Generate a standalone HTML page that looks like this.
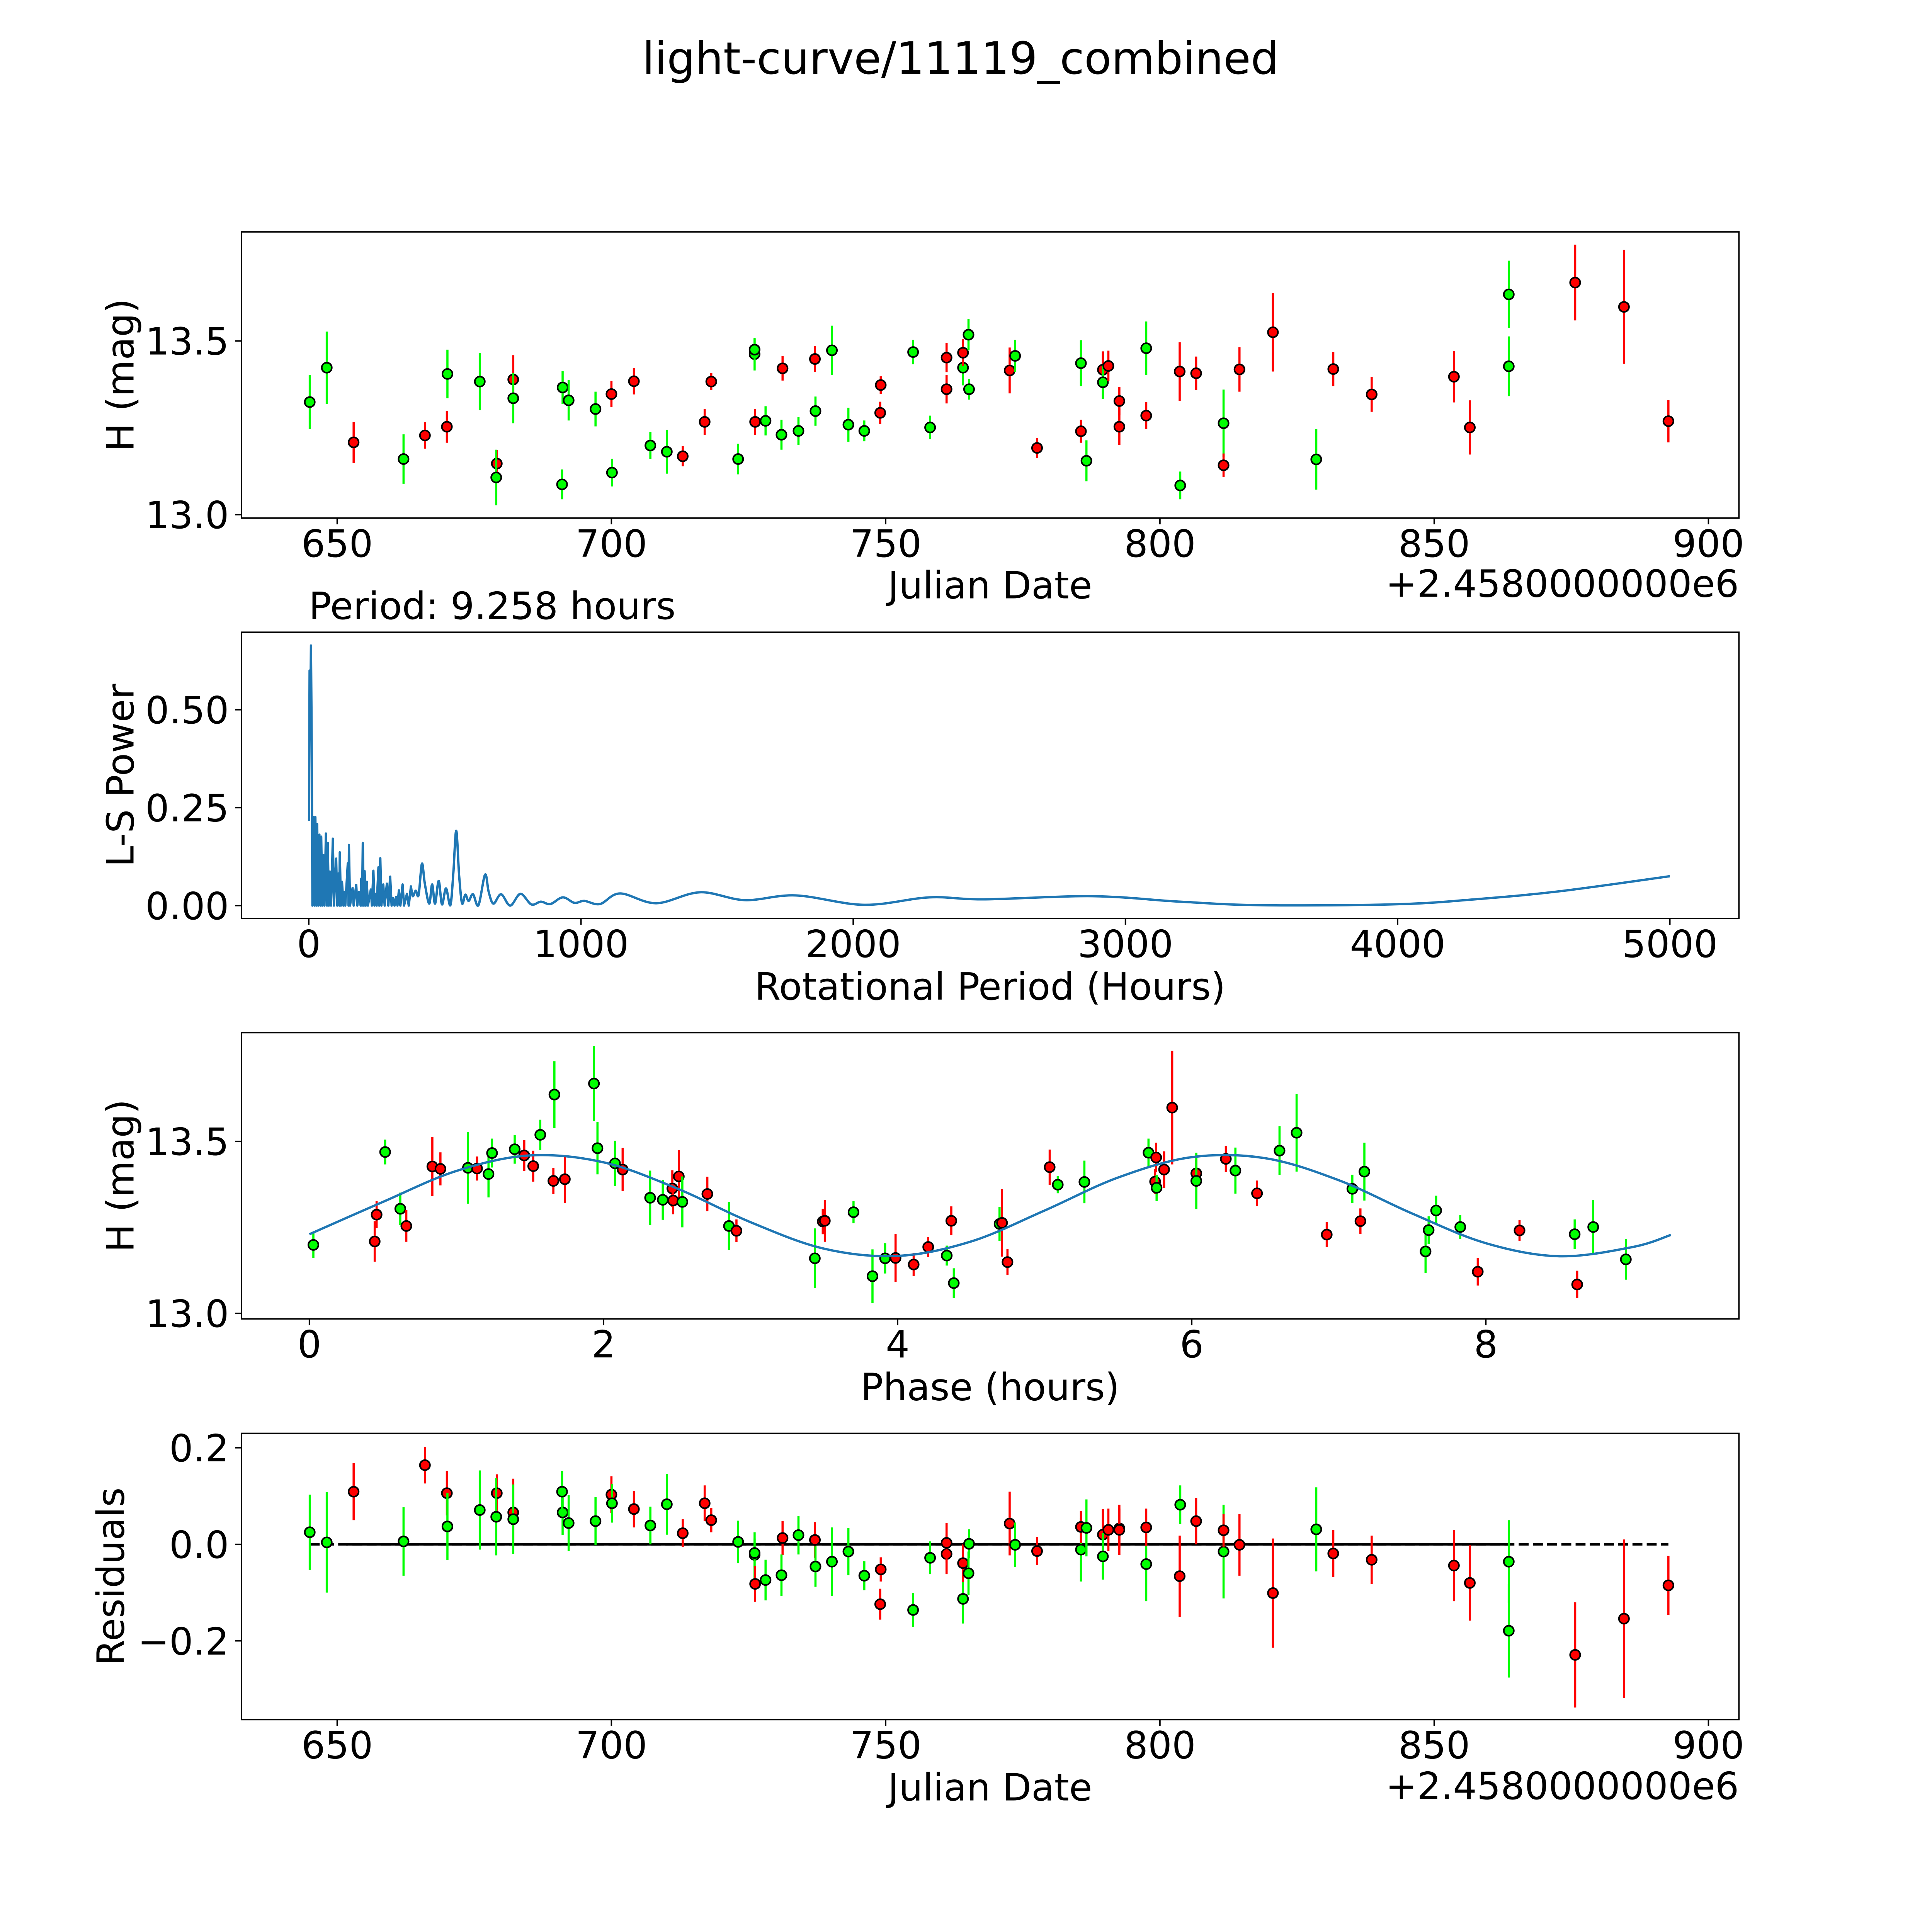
<!DOCTYPE html>
<html>
<head>
<meta charset="utf-8">
<style>
html,body{margin:0;padding:0;background:#fff;overflow:hidden;}
svg{display:block;}
text{font-family:"DejaVu Sans","Liberation Sans",sans-serif;fill:#000;}
</style>
</head>
<body>
<svg id="fig" xmlns="http://www.w3.org/2000/svg" width="5400" height="5400" viewBox="0 0 5400 5400">
<rect x="0" y="0" width="5400" height="5400" fill="#fff"/>
<text x="2486" y="191" font-size="115" text-anchor="middle">light-curve/11119_combined</text>
<g transform="scale(0.926)">
<g id="p1"></g>
<g id="p2"></g>
<g id="p3"></g>
<g id="p4"></g>
<text x="863" y="1730" font-size="105">Period: 9.258 hours</text>
</g>
</svg>
<script>
// ---- light curve data (Julian date offset, H mag, error, band) ----
const jd = [645.0,648.1,653.0,662.1,666.0,670.0,670.1,676.0,679.1,679.0,682.1,682.1,691.1,691.0,692.2,697.1,700.0,700.1,704.1,707.1,710.1,713.0,717.0,718.2,723.1,726.1,726.1,726.2,728.1,731.2,731.0,734.1,737.1,737.2,740.2,743.2,746.1,749.1,749.0,755.0,758.1,761.1,761.1,764.1,764.1,765.1,765.2,772.6,773.6,777.6,785.6,785.6,786.6,789.6,789.6,790.6,792.6,792.6,797.5,797.5,803.6,803.7,806.6,811.6,811.6,814.5,820.6,828.5,831.6,838.6,853.6,856.5,863.6,863.6,875.7,884.6,892.7];
const mag = [13.324,13.423,13.208,13.160,13.228,13.253,13.405,13.383,13.147,13.107,13.389,13.335,13.366,13.087,13.329,13.304,13.347,13.121,13.384,13.199,13.181,13.168,13.267,13.383,13.160,13.462,13.475,13.267,13.270,13.421,13.230,13.241,13.448,13.298,13.473,13.259,13.241,13.373,13.293,13.468,13.251,13.452,13.361,13.423,13.466,13.518,13.361,13.415,13.457,13.192,13.436,13.240,13.155,13.417,13.381,13.428,13.327,13.253,13.479,13.285,13.412,13.084,13.407,13.263,13.142,13.418,13.525,13.159,13.419,13.346,13.397,13.251,13.634,13.427,13.668,13.598,13.269];
const magErr = [0.078,0.104,0.059,0.071,0.038,0.046,0.070,0.082,0.039,0.080,0.070,0.072,0.047,0.043,0.058,0.050,0.038,0.040,0.038,0.039,0.063,0.029,0.037,0.025,0.044,0.047,0.030,0.037,0.042,0.035,0.043,0.040,0.037,0.042,0.071,0.049,0.030,0.025,0.032,0.035,0.034,0.042,0.041,0.051,0.039,0.045,0.030,0.066,0.046,0.029,0.066,0.033,0.059,0.053,0.048,0.044,0.041,0.052,0.077,0.039,0.084,0.040,0.048,0.097,0.034,0.064,0.113,0.087,0.049,0.050,0.074,0.078,0.097,0.086,0.109,0.164,0.061];
const band = "ggrgrrggrgrgggggrgrggrrrgggrgrggrggggrrggrrgrggrgrgrgrgrrrgrrgrgrrrgrrrrggrrrr".split("");
const residuals = [0.025,0.004,0.109,0.006,0.164,0.106,0.037,0.071,0.106,0.057,0.066,0.052,0.066,0.109,0.044,0.048,0.103,0.085,0.073,0.039,0.083,0.023,0.085,0.050,0.005,-0.022,-0.018,-0.082,-0.074,0.013,-0.064,0.019,0.009,-0.046,-0.036,-0.015,-0.065,-0.052,-0.124,-0.136,-0.028,-0.020,0.003,-0.113,-0.039,-0.060,0.001,0.043,-0.001,-0.014,-0.011,0.036,0.034,0.020,-0.025,0.030,0.033,0.030,-0.041,0.035,-0.066,0.082,0.048,-0.015,0.029,-0.001,-0.101,0.031,-0.019,-0.032,-0.044,-0.080,-0.179,-0.036,-0.229,-0.154,-0.085];
// ---- phased data ----
const phase = [0.027,0.444,0.457,0.515,0.618,0.659,0.836,0.891,1.078,1.140,1.218,1.242,1.396,1.461,1.522,1.570,1.659,1.666,1.737,1.935,1.959,2.078,2.130,2.317,2.403,2.468,2.474,2.512,2.536,2.706,2.853,2.904,3.437,3.491,3.505,3.700,3.829,3.915,3.986,4.109,4.208,4.334,4.365,4.382,4.693,4.710,4.747,5.034,5.089,5.270,5.706,5.758,5.751,5.761,5.812,5.867,6.031,6.031,6.232,6.297,6.444,6.597,6.713,6.918,7.092,7.147,7.174,7.590,7.611,7.662,7.826,7.945,8.229,8.604,8.621,8.730,8.952];
const phaseMag = [13.199,13.209,13.287,13.469,13.304,13.254,13.427,13.420,13.423,13.421,13.405,13.466,13.477,13.459,13.428,13.519,13.385,13.636,13.390,13.668,13.480,13.436,13.418,13.336,13.330,13.363,13.328,13.398,13.324,13.347,13.254,13.240,13.160,13.267,13.269,13.294,13.108,13.160,13.161,13.142,13.193,13.168,13.269,13.088,13.260,13.263,13.149,13.425,13.374,13.382,13.467,13.453,13.383,13.365,13.418,13.598,13.407,13.385,13.449,13.415,13.349,13.473,13.525,13.229,13.362,13.268,13.412,13.180,13.242,13.299,13.251,13.121,13.241,13.230,13.084,13.251,13.157];
const phaseErr = [0.038,0.059,0.039,0.036,0.047,0.046,0.086,0.048,0.104,0.035,0.068,0.042,0.042,0.045,0.045,0.044,0.038,0.097,0.069,0.109,0.076,0.066,0.063,0.079,0.058,0.053,0.040,0.076,0.074,0.050,0.070,0.033,0.087,0.037,0.061,0.032,0.078,0.044,0.070,0.033,0.029,0.029,0.042,0.043,0.049,0.098,0.038,0.051,0.025,0.062,0.041,0.043,0.036,0.038,0.053,0.165,0.040,0.082,0.038,0.067,0.037,0.071,0.113,0.037,0.041,0.037,0.084,0.063,0.040,0.043,0.035,0.040,0.030,0.043,0.040,0.078,0.059];
const phaseBand = "grrggrrrgrgggrrgrgrgggrggrrrgrgrgrrgggrrrgrggrrrgggrrgrrrgrgrggrgrgggggrrgrgg".split("");
// ---- model curve samples ----
const modelPhase = [0,0.5,1.0,1.5,2.0,2.5,3.0,3.5,4.0,4.5,5.0,5.5,6.0,6.5,7.0,7.5,8.0,8.5,9.0,9.258];
const modelMag = [13.230,13.324,13.414,13.459,13.439,13.363,13.265,13.188,13.167,13.209,13.299,13.395,13.454,13.451,13.387,13.290,13.204,13.166,13.193,13.228];
// ---- periodogram ----
const periodHours = [1,3,5.4,8,10.7,13.4,17.4,21.4,24.1,28.2,30.8,34.9,38.9,42.9,45.6,49.6,53.6,57.6,63.0,67.0,69.7,73.7,77.7,81.8,88.5,92.5,100.5,104.6,108.6,112.6,113.9,118.0,122.0,127.3,130.0,134.1,143.4,146.1,147.5,151.5,160.9,164.9,174.3,178.3,185.0,190.4,193.0,195.7,198.4,202.4,205.1,209.1,213.1,217.2,227.9,231.9,237.3,241.3,245.3,249.3,256.0,258.7,262.7,266.8,273.5,278.8,286.9,292.2,298.9,304.3,309.7,315.0,320.4,325.7,331.1,336.5,344.5,349.9,360.6,367.3,375.3,382.0,392.8,403.5,415.6,426.3,442.4,453.1,463.8,477.2,489.3,504.0,520.1,530.9,541.6,552.3,563.0,575.1,587.1,603.2,623.3,647.5,660.9,678.3,706.4,740.0,777.5,817.7,852.6,887.4,933.0,975.9,1012.1,1069.7,1143.5,1276.2,1437.0,1601.9,1789.6,2040,2280,2480,2880,3200,3500,4000,4300,4600,5000];
const lsPower = [0.216,0.600,0.464,0.664,0.417,0,0.226,0,0.226,0,0.208,0,0.181,0,0.176,0,0.129,0,0.184,0,0.160,0,0.087,0,0.171,0,0.120,0,0.082,0,0.136,0,0.061,0,0.035,0,0.108,0,0.155,0,0.045,0,0.053,0,0.035,0,0.069,0,0.160,0,0.088,0,0.061,0,0.041,0,0.089,0,0.030,0,0.098,0,0.121,0,0.054,0,0.056,0,0.074,0,0.019,0,0.022,0,0.039,0,0.054,0,0.030,0,0.049,0.024,0.038,0.027,0.107,0.056,0.005,0.054,0.005,0.063,0.003,0.044,0.001,0.082,0.191,0.077,0.006,0.028,0.012,0.029,0.001,0.079,0.035,0.005,0.029,0.0,0.030,0.003,0.010,0.004,0.021,0.007,0.012,0.004,0.031,0.006,0.034,0.014,0.026,0.002,0.021,0.016,0.024,0.010,0.001,0.0035,0.017,0.037,0.075];
// ---- ticks ----
const jdTicks = [650,700,750,800,850,900];
const magTicks = [13.0,13.5];
const magTickLabels = ["13.0","13.5"];
const periodTicks = [0,1000,2000,3000,4000,5000];
const powerTicks = [0,0.25,0.5];
const powerTickLabels = ["0.00","0.25","0.50"];
const phaseTicks = [0,2,4,6,8];
const resTicks = [-0.2,0,0.2];
const resTickLabels = ["\u22120.2","0.0","0.2"];

const NS = "http://www.w3.org/2000/svg";
const FS = 105;
function mk(parent, tag, attrs){
  const e = document.createElementNS(NS, tag);
  for (const k in attrs) e.setAttribute(k, attrs[k]);
  parent.appendChild(e);
  return e;
}
function axis(x0,x1,y0,y1,xmin,xmax,ymin,ymax){
  return {x0,x1,y0,y1,
    sx:v=>x0+(v-xmin)/(xmax-xmin)*(x1-x0),
    sy:v=>y1-(v-ymin)/(ymax-ymin)*(y1-y0)};
}
const A1 = axis(675,4860,648,1448,632.56,905.56,12.990,13.814);
const A2 = axis(675,4860,1767,2567,-247.1,5253.7,-0.0329,0.6978);
const A3 = axis(675,4860,2886,3686,-0.4616,9.721,12.984,13.816);
const A4 = axis(675,4860,4006,4806,632.56,905.56,-0.3631,0.2298);
const COL = {r:"#ff0000", g:"#00ff00"};

function frame(g, A){
  const r = mk(g,"rect",{x:A.x0,y:A.y0,width:A.x1-A.x0,height:A.y1-A.y0,fill:"none",stroke:"#000","stroke-width":4});
  
  
}
function xticks(g, A, vals, labels, name){
  vals.forEach((v,i)=>{
    const x = A.sx(v);
    const t = mk(g,"line",{x1:x,x2:x,y1:A.y1,y2:A.y1+17.5,stroke:"#000","stroke-width":4});
    
    
    const l = mk(g,"text",{x:x,y:A.y1+108,"font-size":FS,"text-anchor":"middle"});
    l.textContent = labels ? labels[i] : String(v);
    
    
  });
}
function yticks(g, A, vals, labels, name){
  vals.forEach((v,i)=>{
    const y = A.sy(v);
    const t = mk(g,"line",{x1:A.x0-17.5,x2:A.x0,y1:y,y2:y,stroke:"#000","stroke-width":4});
    
    
    const l = mk(g,"text",{x:A.x0-35,y:y+38,"font-size":FS,"text-anchor":"end"});
    l.textContent = labels[i];
    
    
  });
}
function label(g, x, y, txt, rot, name, anchor){
  const l = mk(g,"text",{x:x,y:y,"font-size":FS,"text-anchor":anchor||"middle"});
  if (rot) l.setAttribute("transform","rotate(-90 "+x+" "+y+")");
  l.textContent = txt;
  
  
}
function errPoints(g, A, xs, ys, es, bs, name){
  xs.forEach((xv,i)=>{
    const x = A.sx(xv);
    const b = mk(g,"line",{x1:x,x2:x,y1:A.sy(ys[i]-es[i]),y2:A.sy(ys[i]+es[i]),stroke:COL[bs[i]],"stroke-width":6});
    
    
    const c = mk(g,"circle",{cx:x,cy:A.sy(ys[i]),r:14,fill:COL[bs[i]],stroke:"#000","stroke-width":4.5});
    
    
  });
}
function smoothPath(pts){
  let d = "M"+pts[0][0]+","+pts[0][1];
  for (let i=0;i<pts.length-1;i++){
    const p0=pts[Math.max(i-1,0)], p1=pts[i], p2=pts[i+1], p3=pts[Math.min(i+2,pts.length-1)];
    const c1x=p1[0]+(p2[0]-p0[0])/6, c1y=p1[1]+(p2[1]-p0[1])/6;
    const c2x=p2[0]-(p3[0]-p1[0])/6, c2y=p2[1]-(p3[1]-p1[1])/6;
    d += " C"+c1x+","+c1y+" "+c2x+","+c2y+" "+p2[0]+","+p2[1];
  }
  return d;
}

// Panel 1
const g1 = document.getElementById("p1");
frame(g1,A1);
errPoints(g1,A1,jd,mag,magErr,band,"light-curve");
xticks(g1,A1,jdTicks,null,"jd-x");
yticks(g1,A1,magTicks,magTickLabels,"mag-y");
label(g1,2767,1672,"Julian Date",false,"x-axis-title");
label(g1,4860,1668,"+2.4580000000e6",false,"x-axis-offset","end");
label(g1,373,1048,"H (mag)",true,"y-axis-title");

// Panel 2
const g2 = document.getElementById("p2");
frame(g2,A2);
{
  let d = "";
  const smoothStart = periodHours.findIndex(h=>h>=375);
  periodHours.forEach((h,i)=>{
    if (i<=smoothStart) d += (i===0?"M":" L")+A2.sx(h)+","+A2.sy(lsPower[i]);
  });
  const sp = [];
  for (let i=smoothStart;i<periodHours.length;i++) sp.push([A2.sx(periodHours[i]),A2.sy(lsPower[i])]);
  d += " " + smoothPath(sp).replace(/^M[^ ]+/,"");
  const p = mk(g2,"path",{d:d,fill:"none",stroke:"#1f77b4","stroke-width":6.5,"stroke-linejoin":"round"});
  
  
}
xticks(g2,A2,periodTicks,null,"period-x");
yticks(g2,A2,powerTicks,powerTickLabels,"power-y");
label(g2,2767,2794,"Rotational Period (Hours)",false,"x-axis-title");
label(g2,373,2167,"L-S Power",true,"y-axis-title");

// Panel 3
const g3 = document.getElementById("p3");
frame(g3,A3);
errPoints(g3,A3,phase,phaseMag,phaseErr,phaseBand,"phased");
{
  const pts = modelPhase.map((p,i)=>[A3.sx(p),A3.sy(modelMag[i])]);
  const m = mk(g3,"path",{d:smoothPath(pts),fill:"none",stroke:"#1f77b4","stroke-width":6.5});
  
  
}
xticks(g3,A3,phaseTicks,null,"phase-x");
yticks(g3,A3,magTicks,magTickLabels,"mag-y");
label(g3,2767,3913,"Phase (hours)",false,"x-axis-title");
label(g3,373,3286,"H (mag)",true,"y-axis-title");

// Panel 4
const g4 = document.getElementById("p4");
frame(g4,A4);
{
  const z1 = mk(g4,"line",{x1:A4.sx(jd[0]),x2:A4.sx(jd[jd.length-1]),y1:A4.sy(0),y2:A4.sy(0),stroke:"#000","stroke-width":7,"stroke-dasharray":"27.75 12"});
  
  
  const z2 = mk(g4,"line",{x1:A4.sx(651.6),x2:A4.sx(863.6),y1:A4.sy(0),y2:A4.sy(0),stroke:"#000","stroke-width":7});
  
  
}
errPoints(g4,A4,jd,residuals,magErr,band,"residual");
xticks(g4,A4,jdTicks,null,"jd-x");
yticks(g4,A4,resTicks,resTickLabels,"residual-y");
label(g4,2767,5032,"Julian Date",false,"x-axis-title");
label(g4,4860,5028,"+2.4580000000e6",false,"x-axis-offset","end");
label(g4,346,4406,"Residuals",true,"y-axis-title");
</script>
</body>
</html>
